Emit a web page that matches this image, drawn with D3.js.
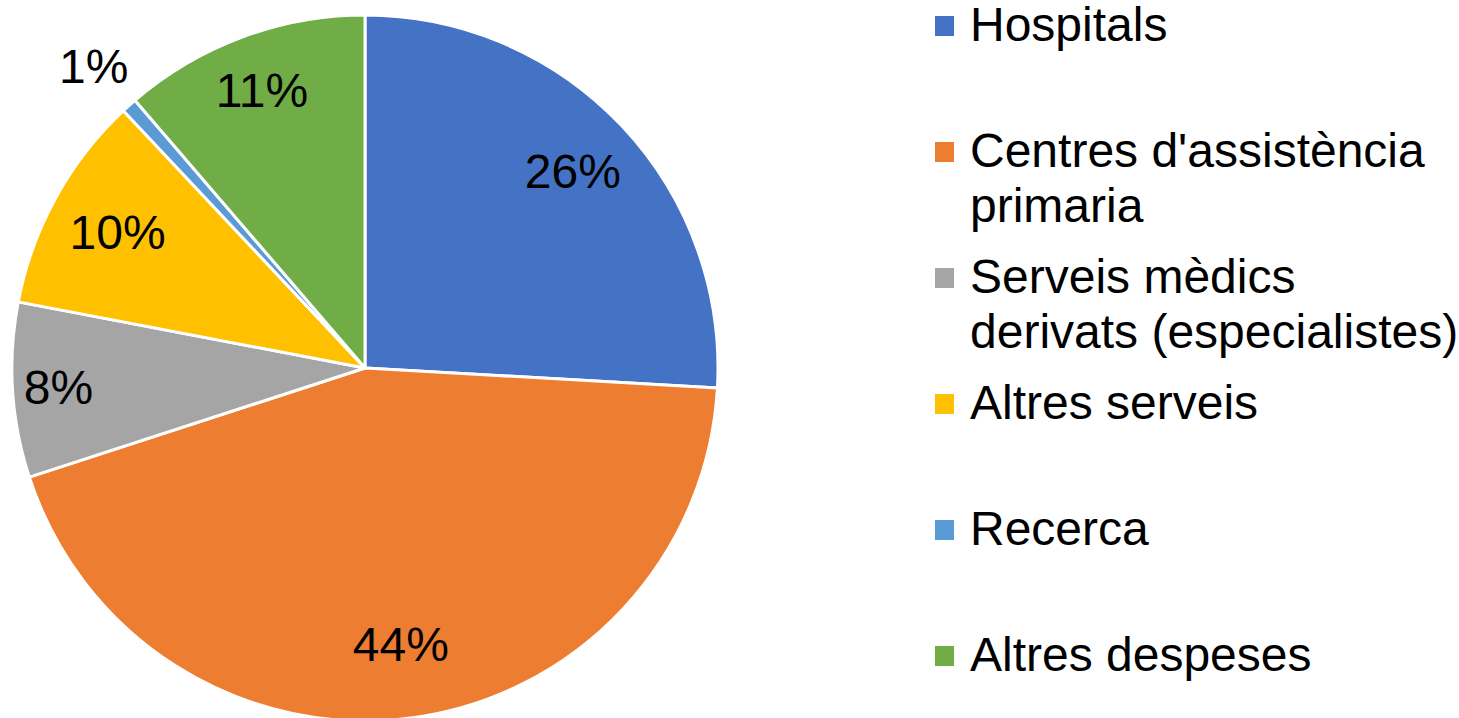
<!DOCTYPE html>
<html>
<head>
<meta charset="utf-8">
<script src="https://cdn.jsdelivr.net/npm/d3@7"></script>
<style>
  body { margin: 0; background: #fff; }
  svg { display: block; font-family: "Liberation Sans", Arial, Helvetica, sans-serif; }
</style>
</head>
<body>
<svg id="chart" width="1459" height="718"></svg>
<script>
"use strict";

// Data
const categories = ["Hospitals", "Centres d'assistència primaria", "Serveis mèdics derivats (especialistes)",
  "Altres serveis", "Recerca", "Altres despeses"];
const values = [25.9, 44.1, 8.0, 10.0, 0.7, 11.3];
const legendLines = [["Hospitals"], ["Centres d'assistència", "primaria"], ["Serveis mèdics", "derivats (especialistes)"],
  ["Altres serveis"], ["Recerca"], ["Altres despeses"]];
const colors = ["#4472C4", "#ED7D31", "#A5A5A5", "#FFC000", "#5B9BD5", "#70AD47"];

// label distance from centre, as share of the radius
const labelRadius = [0.81, 0.79, 0.87, 0.8, 1.15, 0.84];

const svg = d3.select("#chart");

const cx = 365, cy = 368, radius = 353;
const total = d3.sum(values);

const color = d3.scaleOrdinal()
    .domain(categories)
    .range(colors);

const pie = d3.pie()
    .sort(null)
    .value(d => d.value);

const data = categories.map((c, i) => ({name: c, value: values[i]}));
const arcs = pie(data);

const arc = d3.arc()
    .innerRadius(0)
    .outerRadius(radius);

const g = svg.append("g")
    .attr("transform", "translate(" + cx + "," + cy + ")");

g.selectAll("path")
    .data(arcs)
  .enter().append("path")
    .attr("d", arc)
    .style("fill", d => color(d.data.name))
    .style("stroke", "#fff")
    .style("stroke-width", 3)
    .style("stroke-linejoin", "round");

const pct = d3.format(".0%");

// Labels
g.selectAll(".label")
    .data(arcs)
  .enter().append("text")
    .attr("class", "label")
    .attr("transform", (d, i) => {
      const r = radius * labelRadius[i];
      const p = d3.arc().innerRadius(r).outerRadius(r).centroid(d);
      return "translate(" + p[0] + "," + p[1] + ")";
    })
    .attr("text-anchor", "middle")
    .attr("dy", "0.35em")
    .style("font-size", "48px")
    .style("fill", "#000")
    .text(d => pct(d.data.value / total));

// Legend
const legendX = 935, legendY0 = 26, legendStep = 126, lineHeight = 55;

const item = svg.selectAll(".legend")
    .data(categories)
  .enter().append("g")
    .attr("class", "legend")
    .attr("transform", (d, i) => "translate(" + legendX + "," + (legendY0 + i * legendStep) + ")");

item.append("rect")
    .attr("x", 0)
    .attr("y", -10)
    .attr("width", 19)
    .attr("height", 20)
    .style("fill", d => color(d));

item.each(function(d, i) {
  const lines = legendLines[i];
  d3.select(this).selectAll("text")
      .data(lines)
    .enter().append("text")
      .attr("x", 35)
      .attr("y", (l, j) => 15 + j * lineHeight)
      .style("font-size", "48px")
      .style("fill", "#000")
      .text(l => l);
});
</script>
</body>
</html>
